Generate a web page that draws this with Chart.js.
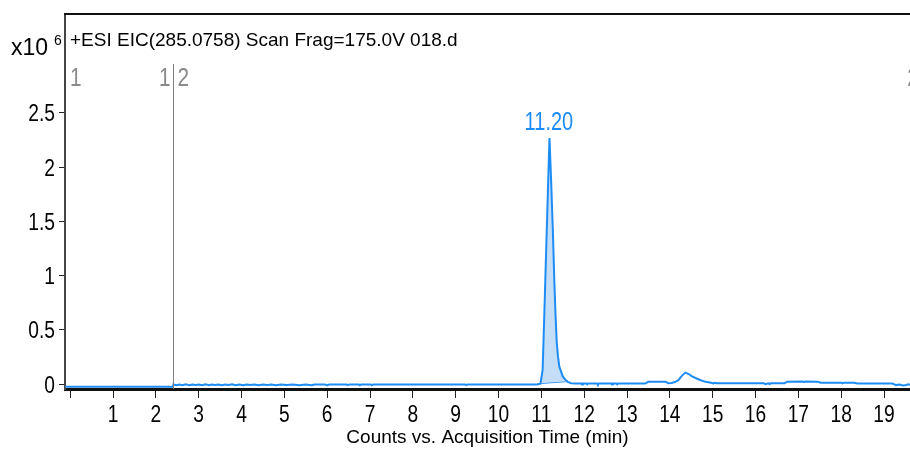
<!DOCTYPE html>
<html>
<head>
<meta charset="utf-8">
<script src="https://cdn.jsdelivr.net/npm/chart.js@4.4.1/dist/chart.umd.min.js"></script>
<style>
  html, body { margin: 0; padding: 0; background: #fff; }
  #wrap { width: 910px; height: 451px; position: relative; }
</style>
</head>
<body>
<div id="wrap"><canvas id="chart"></canvas></div>
<script>
// EIC trace, counts in units of 10^6, time in minutes
const times = [
  -0.12, 2.40,
  2.41, 2.48, 2.55, 2.62, 2.70, 2.78, 2.85, 2.93, 3.00, 3.08, 3.16, 3.24, 3.30, 3.38, 3.46, 3.54,
  3.62, 3.70, 3.78, 3.86, 3.95, 4.04, 4.12, 4.20, 4.30, 4.40, 4.50, 4.60, 4.70, 4.80, 4.92, 5.05,
  5.20, 5.35, 5.50, 5.64, 5.70, 5.95, 6.00, 6.05, 6.45, 6.48, 6.52, 6.74, 6.76, 6.80, 7.02, 7.04,
  7.08, 9.22, 9.25, 9.28,
  10.90, 10.98, 11.03, 11.07, 11.11, 11.15, 11.19, 11.23, 11.27, 11.305, 11.33, 11.36, 11.39, 11.42,
  11.50, 11.56, 11.615, 11.70, 11.80,
  11.93, 11.95, 11.97, 12.05, 12.07, 12.09, 12.30, 12.32, 12.34, 12.63, 12.65, 12.67, 12.75, 12.77,
  12.79, 13.42, 13.50, 13.58, 13.90, 13.96, 14.04, 14.12, 14.20, 14.28, 14.36, 14.44, 14.52, 14.61,
  14.72, 14.84, 14.96, 15.02, 15.05, 15.10, 15.30, 16.20, 16.23, 16.30, 16.33, 16.36, 16.68, 16.74,
  17.10, 17.13, 17.16, 17.45, 17.52, 18.00, 18.03, 18.06, 18.30, 18.38, 19.20, 19.28, 19.36, 19.44,
  19.50, 19.56, 19.62
];
const counts = [
  -0.025, -0.025,
  -0.004, -0.012, -0.004, -0.011, -0.003, -0.012, -0.004, -0.010, -0.004, -0.012, -0.003, -0.011, -0.004, -0.009, -0.004, -0.012,
  -0.004, -0.010, -0.003, -0.011, -0.004, -0.012, -0.004, -0.010, -0.004, -0.011, -0.004, -0.010, -0.004, -0.011, -0.004, -0.010,
  -0.004, -0.011, -0.004, -0.012, -0.004, -0.004, -0.012, -0.004, -0.004, -0.011, -0.004, -0.004, -0.011, -0.004, -0.004, -0.011,
  -0.004, -0.004, -0.010, -0.004,
  -0.004, 0.004, 0.13, 0.65, 1.2, 1.74, 2.27, 1.86, 1.4, 0.93, 0.65, 0.38, 0.25, 0.16,
  0.07, 0.04, 0.02, 0.008, 0.004,
  0.004, -0.004, 0.004, 0.004, -0.004, 0.004, 0.004, -0.004, 0.004, 0.004, -0.004, 0.004, 0.004, -0.003,
  0.004, 0.004, 0.02, 0.022, 0.022, 0.008, 0.01, 0.018, 0.035, 0.075, 0.105, 0.092, 0.07, 0.053,
  0.035, 0.02, 0.012, 0.006, 0.012, 0.008, 0.006, 0.006, -0.002, 0.006, 0.0, 0.006, 0.008, 0.022,
  0.024, 0.018, 0.024, 0.022, 0.012, 0.012, 0.006, 0.012, 0.012, 0.004, 0.004, -0.010, -0.004, -0.014,
  -0.012, -0.002, -0.008
];

// integrated peak and its baseline
const peakRange = [10.98, 11.615];
const baseTimes = [10.99, 11.615];
const baseCounts = [0.006, 0.026];
const peakTime = 11.20;
const peakApex = 2.27;
const peakLabel = '11.20';

// segment markers
const segmentTime = 2.40;
const segmentEndTime = 19.54;

const xTicks = [0, 1, 2, 3, 4, 5, 6, 7, 8, 9, 10, 11, 12, 13, 14, 15, 16, 17, 18, 19];
const yTicks = [0, 0.5, 1, 1.5, 2, 2.5];

const header = '+ESI EIC(285.0758) Scan Frag=175.0V 018.d';
const xTitle = 'Counts vs. Acquisition Time (min)';

const REG = "'Liberation Sans', Arial, sans-serif";
const BLUE = '#1e8cf5';

const trace = times.map((t, i) => ({ x: t, y: counts[i] }));
const peakFill = trace.filter(p => p.x >= peakRange[0] && p.x <= peakRange[1]);
const baseLine = baseTimes.map((t, i) => ({ x: t, y: baseCounts[i] }));

// no narrow face installed, so squeeze the regular one
function narrowText(ctx, text, x, y, size, align, color) {
  ctx.save();
  ctx.translate(x, y);
  ctx.scale(0.8, 1);
  ctx.font = size + 'px ' + REG;
  ctx.textAlign = align;
  ctx.textBaseline = 'alphabetic';
  ctx.fillStyle = color;
  ctx.fillText(text, 0, 0);
  ctx.restore();
}

const overlay = {
  id: 'overlay',
  afterDraw(chart) {
    const { ctx, chartArea: a, scales: { x, y } } = chart;
    ctx.save();
    // top frame
    ctx.strokeStyle = '#111';
    ctx.lineWidth = 2;
    ctx.beginPath();
    ctx.moveTo(a.left - 1, a.top);
    ctx.lineTo(a.right, a.top);
    ctx.stroke();

    // tick labels
    xTicks.forEach(v => {
      if (v === 0) return;
      narrowText(ctx, String(v), x.getPixelForValue(v), 422, 24, 'center', '#000');
    });
    yTicks.forEach(v => {
      narrowText(ctx, String(v), 55, y.getPixelForValue(v) + 8.5, 24, 'right', '#000');
    });

    // header and multiplier
    ctx.fillStyle = '#000';
    ctx.textAlign = 'left';
    ctx.textBaseline = 'alphabetic';
    ctx.font = '19px ' + REG;
    ctx.fillText(header, a.left + 5, a.top + 32);
    ctx.font = '23px ' + REG;
    ctx.fillText('x10', 11, 55);
    ctx.font = '14px ' + REG;
    ctx.fillText('6', 54, 45);

    // segment divider
    const sx = Math.round(x.getPixelForValue(segmentTime)) + 0.5;
    ctx.strokeStyle = '#808080';
    ctx.lineWidth = 1;
    ctx.beginPath();
    ctx.moveTo(sx, 64);
    ctx.lineTo(sx, a.bottom);
    ctx.stroke();

    narrowText(ctx, '1', a.left + 5, 86, 26, 'left', '#8a8a8a');
    narrowText(ctx, '2', sx + 4, 86, 26, 'left', '#8a8a8a');
    narrowText(ctx, '2', x.getPixelForValue(segmentEndTime), 86, 26, 'left', '#8a8a8a');
    narrowText(ctx, '1', sx - 3, 86, 26, 'right', '#8a8a8a');

    // peak label
    narrowText(ctx, peakLabel, x.getPixelForValue(peakTime) - 1, y.getPixelForValue(peakApex) - 8, 25, 'center', BLUE);
    ctx.restore();
  }
};

new Chart(document.getElementById('chart'), {
  type: 'line',
  data: {
    datasets: [
      {
        data: trace,
        borderColor: BLUE,
        borderWidth: 2,
        pointRadius: 0,
        fill: false,
        tension: 0
      },
      {
        data: peakFill,
        borderWidth: 0,
        borderColor: 'rgba(0,0,0,0)',
        backgroundColor: '#c4def8',
        pointRadius: 0,
        fill: 2,
        tension: 0
      },
      {
        data: baseLine,
        borderColor: BLUE,
        borderWidth: 1.5,
        pointRadius: 0,
        fill: false
      }
    ]
  },
  options: {
    responsive: true,
    maintainAspectRatio: false,
    animation: false,
    devicePixelRatio: 1,
    layout: { padding: { top: 14, left: 0, right: 0, bottom: 0 } },
    plugins: {
      legend: { display: false },
      tooltip: { enabled: false }
    },
    scales: {
      x: {
        type: 'linear',
        min: -0.121,
        max: 19.607,
        afterBuildTicks: axis => { axis.ticks = xTicks.map(v => ({ value: v })); },
        afterFit: s => { s.height = 62; },
        ticks: { display: false },
        grid: {
          display: true,
          drawOnChartArea: false,
          drawTicks: true,
          tickLength: 9,
          color: '#222',
          lineWidth: 1
        },
        border: { display: true, color: '#111', width: 3 },
        title: {
          display: true,
          text: xTitle,
          color: '#000',
          font: { family: REG, size: 19 },
          padding: { top: 0, bottom: 2 }
        }
      },
      y: {
        type: 'linear',
        min: -0.046,
        max: 3.413,
        afterBuildTicks: axis => { axis.ticks = yTicks.map(v => ({ value: v })); },
        afterFit: s => { s.width = 65; },
        ticks: { display: false },
        grid: {
          display: true,
          drawOnChartArea: false,
          drawTicks: true,
          tickLength: 6,
          color: '#222',
          lineWidth: 1
        },
        border: { display: true, color: '#444', width: 2 }
      }
    }
  },
  plugins: [overlay]
});
</script>
</body>
</html>
